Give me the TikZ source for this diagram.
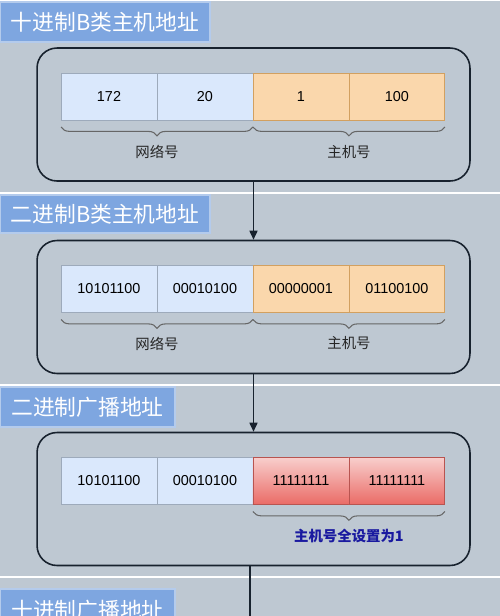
\documentclass[tikz,border=0pt]{standalone}
\usepackage{fontspec}
\setmainfont{Liberation Sans}
\newfontfamily\cjk{Noto Sans CJK SC}
\usepackage{xcolor}
\usetikzlibrary{arrows.meta,positioning,decorations.pathreplacing}
\definecolor{bandgray}{HTML}{BEC8D2}
\definecolor{titleblue}{HTML}{7EA6E0}
\definecolor{titleedge}{HTML}{B4CBEC}
\definecolor{netfill}{HTML}{DAE8FC}
\definecolor{netedge}{HTML}{9DAABB}
\definecolor{hostfill}{HTML}{FAD7AC}
\definecolor{hostedge}{HTML}{D2A060}
\definecolor{bcasttop}{HTML}{F8CECC}
\definecolor{bcastbot}{HTML}{EA6B66}
\definecolor{bcastedge}{HTML}{B85450}
\definecolor{framecolor}{HTML}{18222E}
\definecolor{notecolor}{HTML}{1A1AA0}

\begin{document}
\begin{tikzpicture}[
  x=0.02cm,y=-0.02cm,
  node distance=0pt,
  titlebox/.style={fill=titleblue,draw=titleedge,line width=0.6pt,text=white,
    minimum height=0.8cm,font=\cjk\fontsize{12.4}{14}\selectfont},
  frame/.style={draw=framecolor,line width=0.9pt,rounded corners=0.4cm,
    minimum width=8.66cm,minimum height=2.66cm},
  cell/.style={minimum width=1.92cm,minimum height=0.94cm,outer sep=0pt,
    line width=0.5pt,font=\fontsize{8.2}{9}\selectfont},
  netcell/.style={cell,fill=netfill,draw=netedge},
  hostcell/.style={cell,fill=hostfill,draw=hostedge},
  bcastcell/.style={cell,top color=bcasttop,bottom color=bcastbot,draw=bcastedge},
  bracket/.style={decorate,decoration={brace,mirror,amplitude=5pt},
    draw=black!60,line width=0.6pt},
  lbl/.style={font=\cjk\fontsize{8.2}{10}\selectfont,text=black!85},
  note/.style={font=\cjk\bfseries\fontsize{8.2}{10}\selectfont,text=notecolor},
  arrow/.style={-{Triangle[length=1.8mm,width=1.6mm]},draw=framecolor,line width=0.9pt}
]
\useasboundingbox (0,0) rectangle (500,616);
\clip (0,0) rectangle (500,616);
% background bands
\fill[white] (0,0) rectangle (500,616);
\foreach \top/\bot in {1/192,194/384,386/576,578/620}
  \fill[bandgray] (0,\top) rectangle (500,\bot);

% titles
\node[titlebox,minimum width=4.2cm] (t1) at (105,22) {十进制B类主机地址};
\node[titlebox,minimum width=4.2cm,minimum height=0.76cm] (t2) at (105,214) {二进制B类主机地址};
\node[titlebox,minimum width=3.5cm] (t3) at (87.5,407) {二进制广播地址};
\node[titlebox,minimum width=3.5cm,minimum height=0.84cm] (t4) at (87.5,610) {十进制广播地址};

% decimal address
\node[frame] (box1) at (253.5,114.5) {};
\node[netcell] (a1) at (109,96.5) {172};
\node[netcell,right=of a1] (a2) {20};
\node[hostcell,right=of a2] (a3) {1};
\node[hostcell,right=of a3] (a4) {100};
\draw[bracket] ([yshift=-0.14cm]a1.south west) -- node[lbl,yshift=-0.5cm]{网络号} ([yshift=-0.14cm]a2.south east);
\draw[bracket] ([yshift=-0.14cm]a3.south west) -- node[lbl,yshift=-0.5cm]{主机号} ([yshift=-0.14cm]a4.south east);

% binary address
\node[frame] (box2) at (253.5,307) {};
\node[netcell] (b1) at (109,289) {10101100};
\node[netcell,right=of b1] (b2) {00010100};
\node[hostcell,right=of b2] (b3) {00000001};
\node[hostcell,right=of b3] (b4) {01100100};
\draw[bracket] ([yshift=-0.14cm]b1.south west) -- node[lbl,yshift=-0.48cm]{网络号} ([yshift=-0.14cm]b2.south east);
\draw[bracket] ([yshift=-0.14cm]b3.south west) -- node[lbl,yshift=-0.48cm]{主机号} ([yshift=-0.14cm]b4.south east);

% binary broadcast
\node[frame] (box3) at (253.5,499) {};
\node[netcell] (c1) at (109,481) {10101100};
\node[netcell,right=of c1] (c2) {00010100};
\node[bcastcell,right=of c2] (c3) {11111111};
\node[bcastcell,right=of c3] (c4) {11111111};
\draw[bracket] ([yshift=-0.14cm]c3.south west) -- node[note,yshift=-0.48cm]{主机号全设置为1} ([yshift=-0.14cm]c4.south east);

% connectors
\coordinate (bottom) at (250,620);
\draw[arrow] (box1.south) -- (box2.north);
\draw[arrow] (box2.south) -- (box3.north);
\draw[draw=framecolor,line width=0.9pt] (bottom |- box3.south) -- (bottom);
\end{tikzpicture}
\end{document}
